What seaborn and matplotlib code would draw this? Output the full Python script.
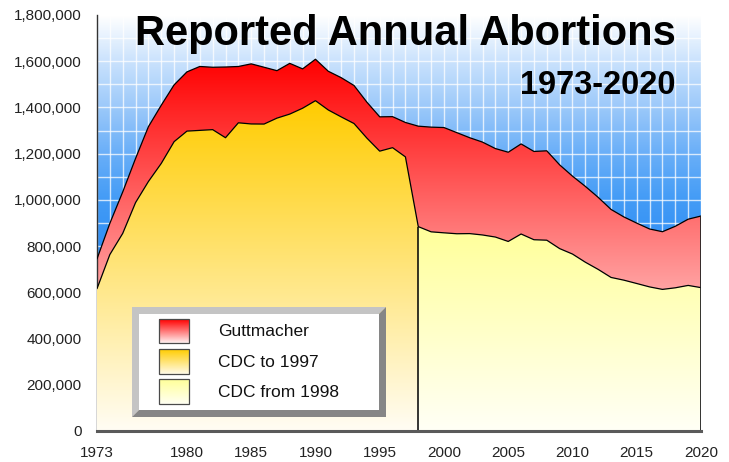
import numpy as np
import pandas as pd
import matplotlib
matplotlib.use("Agg")
import matplotlib.pyplot as plt
from matplotlib.colors import LinearSegmentedColormap
from matplotlib.patches import PathPatch, Rectangle, Polygon
import seaborn as sns

# data
years = list(range(1973, 2021))
guttmacher = [744600, 898600, 1034200, 1179300, 1316700, 1409600, 1497700, 1553900,
              1577300, 1573900, 1575000, 1577200, 1588600, 1574000, 1559100, 1590800,
              1566900, 1608600, 1556500, 1528900, 1495000, 1423000, 1359400, 1360200,
              1335000, 1319000, 1314800, 1313000, 1291000, 1269000, 1250000, 1222100,
              1206200, 1242200, 1209600, 1212400, 1151600, 1102700, 1058500, 1011000,
              958700, 926200, 899500, 874100, 862300, 885800, 916500, 930200]
cdc_to_1997 = [615831, 763476, 854853, 988267, 1079430, 1157776, 1251921, 1297606,
               1300760, 1303980, 1268987, 1333521, 1328570, 1328112, 1353671, 1371285,
               1396658, 1429247, 1388937, 1359146, 1330414, 1267415, 1210883, 1225937,
               1186039]
cdc_from_1998 = [884273, 861789, 857475, 853485, 854122, 848163, 839226, 820151,
                 852385, 827609, 825564, 789217, 765651, 730322, 699202, 664435,
                 652639, 638169, 623471, 612719, 619591, 629898, 620327]

legend_labels = ["Guttmacher", "CDC to 1997", "CDC from 1998"]
y_ticks = list(range(0, 1800001, 200000))
x_ticks = [1973, 1980, 1985, 1990, 1995, 2000, 2005, 2010, 2015, 2020]

sns.set_theme(style="white")
plt.rcParams["font.family"] = ["Liberation Sans", "DejaVu Sans"]

df = pd.DataFrame({"year": years, "guttmacher": guttmacher,
                   "cdc": cdc_to_1997 + cdc_from_1998})
old_years = years[:len(cdc_to_1997) + 1]
old_vals = cdc_to_1997 + [cdc_from_1998[0]]
new_years = years[len(cdc_to_1997):]

W, H = 729, 462
fig = plt.figure(figsize=(W / 100, H / 100), dpi=100)
ax = fig.add_axes([97 / W, 1 - 431 / H, 604 / W, 416 / H])

ymax = 1800000
grad = np.linspace(0, 1, 256).reshape(-1, 1)

# blue background
bg_cmap = LinearSegmentedColormap.from_list("bg", [
    (0.0, "#1e7ff0"), (0.44, "#2f8ef5"), (0.56, "#449cf6"), (0.67, "#6aaff8"),
    (0.78, "#9cc9fa"), (0.89, "#cae2fd"), (1.0, "#ffffff")])
ax.imshow(grad, extent=[years[0], years[-1], 0, ymax], origin="lower",
          aspect="auto", cmap=bg_cmap, zorder=0)
ax.vlines(years, 0, ymax, color="white", lw=1, alpha=0.75, zorder=1)
ax.hlines(range(100000, ymax + 1, 100000), years[0], years[-1],
          color="white", lw=1, alpha=0.75, zorder=1)


def gradient_fill(x, lo, hi, colors, vmin, vmax, z):
    poly = ax.fill_between(x, lo, hi, facecolor="none", edgecolor="none")
    patch = PathPatch(poly.get_paths()[0], transform=ax.transData,
                      facecolor="none", edgecolor="none")
    ax.add_patch(patch)
    cmap = LinearSegmentedColormap.from_list("g", colors)
    im = ax.imshow(grad, extent=[x[0], x[-1], vmin, vmax], origin="lower",
                   aspect="auto", cmap=cmap, zorder=z)
    im.set_clip_path(patch)


gradient_fill(years, df["cdc"], df["guttmacher"], ["#ffa4a4", "#ff0000"],
              600000, 1610000, 2)
gradient_fill(old_years, [0] * len(old_years), old_vals, ["#fffdf4", "#ffcc00"],
              0, max(old_vals), 3)
gradient_fill(new_years, [0] * len(new_years), cdc_from_1998, ["#fffff6", "#ffff99"],
              0, cdc_from_1998[0], 3)

# outlines
sns.lineplot(data=df, x="year", y="guttmacher", color="black", lw=0.9, ax=ax, zorder=4)
sns.lineplot(data=df, x="year", y="cdc", color="black", lw=0.9, ax=ax, zorder=4)
ax.vlines(new_years[0], 0, cdc_from_1998[0], color="black", lw=1.1, zorder=4)
ax.vlines(years[-1], 0, guttmacher[-1], color="#222222", lw=1.3, zorder=4)

ax.set_xlim(years[0], years[-1])
ax.set_ylim(0, ymax)
ax.set_xlabel("")
ax.set_ylabel("")
ax.set_xticks(x_ticks)
ax.set_xticks(years, minor=True)
ax.set_yticks(y_ticks)
ax.set_yticklabels([f"{v:,}" for v in y_ticks])
ax.tick_params(axis="y", labelsize=11, length=0, pad=11, labelcolor="#222222")
ax.tick_params(axis="x", which="major", labelsize=11, length=0, pad=11,
               labelcolor="#222222")
ax.tick_params(axis="x", which="minor", direction="inout", length=5, width=1.3,
               color="white")
for s in ["top", "right"]:
    ax.spines[s].set_visible(False)
ax.spines["left"].set_color("#333333")
ax.spines["left"].set_linewidth(1)
ax.spines["bottom"].set_color("#5a5a5a")
ax.spines["bottom"].set_linewidth(2.2)
ax.spines["bottom"].set_zorder(5)

# overlay in pixel coordinates for titles and legend
ov = fig.add_axes([0, 0, 1, 1])
ov.set_axis_off()
ov.patch.set_alpha(0)

ov.text(405, 45, "Reported Annual Abortions", ha="center", va="baseline",
        fontsize=30, fontweight="bold", color="black")
ov.text(676, 94, "1973-2020", ha="right", va="baseline",
        fontsize=23.5, fontweight="bold", color="black")

L, T, R, B = 132, 307, 386, 417
l, t, r, b = 139, 314, 379, 410
ov.add_patch(Polygon([(L, B), (L, T), (R, T), (r, t), (l, t), (l, b)],
                     closed=True, facecolor="#c4c4c4", edgecolor="none"))
ov.add_patch(Polygon([(R, T), (R, B), (L, B), (l, b), (r, b), (r, t)],
                     closed=True, facecolor="#868686", edgecolor="none"))
ov.add_patch(Rectangle((l, t), r - l, b - t, facecolor="white", edgecolor="none"))

legend_colors = [["#ff0000", "#fff0f0"], ["#ffcc00", "#fffbe8"], ["#ffff99", "#fffff2"]]
rows = [(319, 343), (349, 374), (379, 404)]
grad_down = np.linspace(0, 1, 64).reshape(-1, 1)
for label, cols, (y0, y1) in zip(legend_labels, legend_colors, rows):
    cmap = LinearSegmentedColormap.from_list("lg", cols)
    ov.imshow(grad_down, extent=[159, 189, y1, y0], origin="upper",
              aspect="auto", cmap=cmap, zorder=3)
    ov.add_patch(Rectangle((159, y0), 30, y1 - y0, facecolor="none",
                           edgecolor="#4a4a4a", lw=0.9, zorder=4))
    ov.text(218, (y0 + y1) / 2 + 1, label, ha="left", va="center",
            fontsize=12.5, color="#111111")

ov.set_xlim(0, W)
ov.set_ylim(H, 0)

fig.savefig("out.png", dpi=100)
